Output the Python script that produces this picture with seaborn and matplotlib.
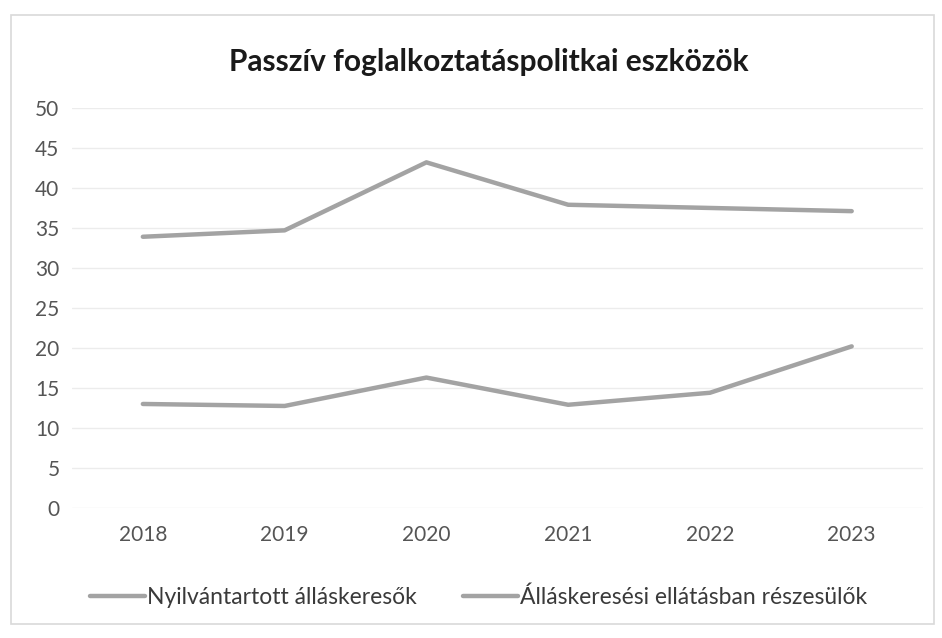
import pandas as pd
import matplotlib.pyplot as plt
import seaborn as sns
from matplotlib.patches import Rectangle

# data
years = [2018, 2019, 2020, 2021, 2022, 2023]
nyilvantartott = [33.9, 34.7, 43.2, 37.9, 37.5, 37.1]
ellatott = [13.0, 12.75, 16.3, 12.9, 14.4, 20.2]
series_names = ["Nyilvántartott álláskeresők", "Álláskeresési ellátásban részesülők"]
y_ticks = [0, 5, 10, 15, 20, 25, 30, 35, 40, 45, 50]

df = pd.DataFrame({
    "ev": years * 2,
    "ertek": nyilvantartott + ellatott,
    "sor": [series_names[0]] * len(years) + [series_names[1]] * len(years),
})

sns.set_style("white")
plt.rcParams["font.family"] = ["Lato", "DejaVu Sans"]

fig = plt.figure(figsize=(9.42, 6.38), dpi=100)
ax = fig.add_axes([0.0764, 0.2038, 0.903, 0.627])

line_grey = "#a3a3a3"
sns.lineplot(data=df, x="ev", y="ertek", hue="sor", palette=[line_grey, line_grey],
             linewidth=3.2, ax=ax, legend=False)

ax.set_xlim(2017.5, 2023.5)
ax.set_ylim(0, 50)
ax.set_xticks(years)
ax.set_yticks(y_ticks)
ax.tick_params(axis="both", length=0, labelsize=15, colors="#555555")
ax.tick_params(axis="y", pad=9)
ax.tick_params(axis="x", pad=12)
ax.set_xlabel("")
ax.set_ylabel("")
ax.grid(axis="y", color="#ececec", linewidth=1)
for s in ax.spines.values():
    s.set_visible(False)

fig.text(0.519, 0.903, "Passzív foglalkoztatáspolitkai eszközök", ha="center", va="center",
         fontsize=21.5, fontweight="bold", color="#1a1a1a")

# legend at the bottom
handles = [plt.Line2D([], [], color=line_grey, linewidth=3.2) for _ in series_names]
fig.legend(handles, series_names, loc="center", bbox_to_anchor=(0.508, 0.064), ncol=2,
           frameon=False, fontsize=16.5, labelcolor="#3a3a3a", handlelength=2.4,
           handletextpad=0.08, columnspacing=2.0)

# light chart frame
fig.patches.append(Rectangle((0.012, 0.022), 0.98, 0.955, transform=fig.transFigure,
                             fill=False, edgecolor="#d9d9d9", linewidth=1.2))

fig.savefig("out.png", dpi=100)
